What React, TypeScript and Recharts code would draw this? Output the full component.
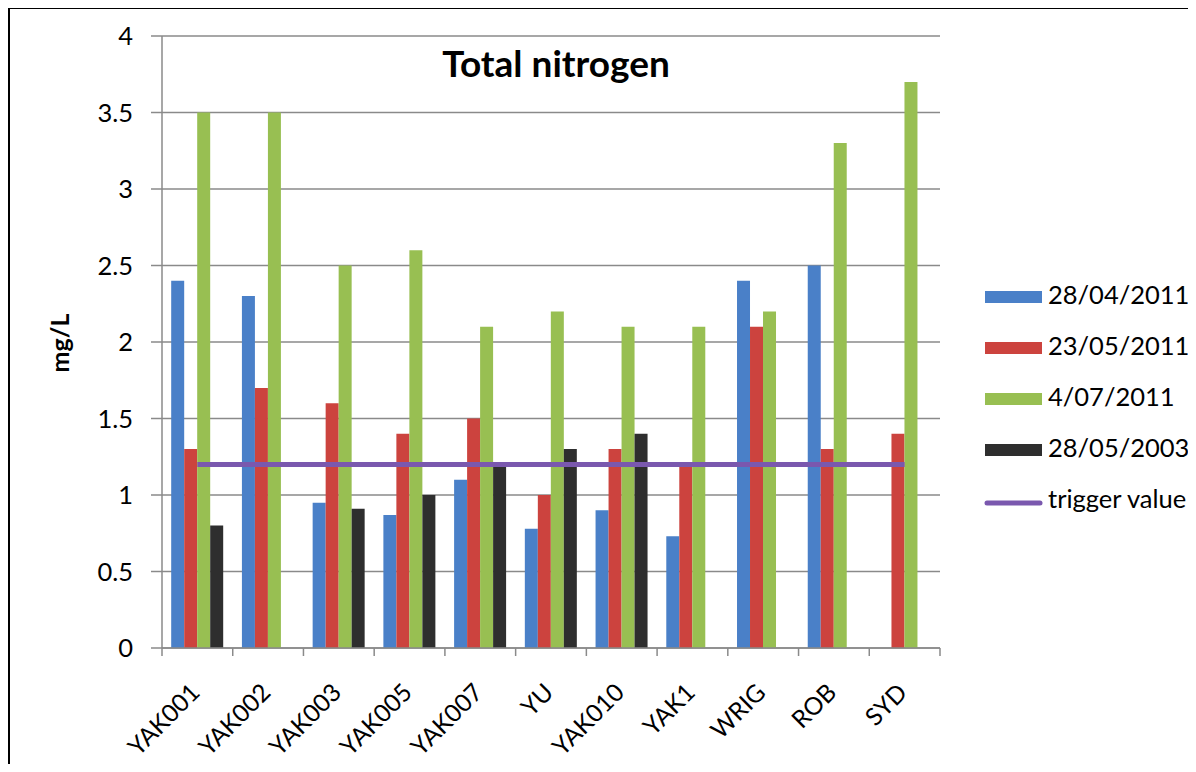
import React from 'react';
import { ComposedChart, Bar, Line, XAxis, YAxis, CartesianGrid } from 'recharts';

const sites = ['YAK001', 'YAK002', 'YAK003', 'YAK005', 'YAK007', 'YU', 'YAK010', 'YAK1', 'WRIG', 'ROB', 'SYD'];
const apr2011: (number | null)[] = [2.4, 2.3, 0.95, 0.87, 1.1, 0.78, 0.9, 0.73, 2.4, 2.5, null];
const may2011: (number | null)[] = [1.3, 1.7, 1.6, 1.4, 1.5, 1.0, 1.3, 1.2, 2.1, 1.3, 1.4];
const jul2011: (number | null)[] = [3.5, 3.5, 2.5, 2.6, 2.1, 2.2, 2.1, 2.1, 2.2, 3.3, 3.7];
const may2003: (number | null)[] = [0.8, null, 0.91, 1.0, 1.2, 1.3, 1.4, null, null, null, null];
const triggerValue = 1.2;
const yTicks = [0, 0.5, 1, 1.5, 2, 2.5, 3, 3.5, 4];
const edgeTicks = [0, 1, 2, 3, 4, 5, 6, 7, 8, 9, 10, 11];

const seriesNames = ['28/04/2011', '23/05/2011', '4/07/2011', '28/05/2003', 'trigger value'];
const seriesColors = ['#4A80C8', '#CC433E', '#98BF52', '#2E2E2E', '#7A58AE'];

const data = sites.map((s, i) => ({
  site: s,
  idx: i + 0.5,
  a: apr2011[i],
  b: may2011[i],
  c: jul2011[i],
  d: may2003[i],
  t: triggerValue,
}));

const FONT = 'Lato, "Open Sans", sans-serif';
const GRID = '#8A8A8A';
const EDGE = 'a_edge';
const CAT = 's_site';

const CatTick = (props: any) => {
  const { x, y, payload } = props;
  return (
    <g transform={`translate(${x + 4},${y + 45})`}>
      <text textAnchor="end" transform="rotate(-45)" fontSize={24.5} fontFamily={FONT} fill="#000">
        {payload.value}
      </text>
    </g>
  );
};

export default function App() {
  const legendBase = 304;
  const legendStep = 51;
  return (
    <div style={{ position: 'relative', width: 1196, height: 772, margin: -8, overflow: 'hidden', background: '#fff' }}>
      <div
        style={{
          position: 'absolute',
          left: 6,
          top: 5,
          width: 1400,
          height: 1200,
          borderLeft: '4px solid #000',
          borderTop: '4px solid #000',
          boxSizing: 'border-box',
        }}
      />
      <div style={{ position: 'absolute', left: 0, top: 0 }}>
        <ComposedChart
          width={1196}
          height={772}
          data={data}
          margin={{ top: 36, right: 256, bottom: 44, left: 102 }}
          barGap={0}
          barCategoryGap="13%"
        >
          <CartesianGrid xAxisId={CAT} vertical={false} stroke={GRID} strokeWidth={1.5} />
          <XAxis
            xAxisId={EDGE}
            dataKey="idx"
            type="number"
            domain={[0, sites.length]}
            ticks={edgeTicks}
            allowDataOverflow
            height={1}
            tickSize={8}
            tickFormatter={() => ''}
            axisLine={{ stroke: GRID, strokeWidth: 1.5 }}
            tickLine={{ stroke: GRID, strokeWidth: 1.5 }}
          />
          <XAxis
            xAxisId={CAT}
            dataKey="site"
            height={79}
            tickSize={0}
            tickMargin={0}
            axisLine={false}
            tickLine={false}
            interval={0}
            tick={<CatTick />}
          />
          <YAxis
            width={60}
            domain={[0, 4]}
            ticks={yTicks}
            tickSize={11}
            tickMargin={18}
            axisLine={{ stroke: GRID, strokeWidth: 1.5 }}
            tickLine={{ stroke: GRID, strokeWidth: 1.5 }}
            tick={{ fontSize: 25.5, fontFamily: FONT, fill: '#000' }}
          />
          <Bar xAxisId={CAT} dataKey="a" name={seriesNames[0]} fill={seriesColors[0]} isAnimationActive={false} />
          <Bar xAxisId={CAT} dataKey="b" name={seriesNames[1]} fill={seriesColors[1]} isAnimationActive={false} />
          <Bar xAxisId={CAT} dataKey="c" name={seriesNames[2]} fill={seriesColors[2]} isAnimationActive={false} />
          <Bar xAxisId={CAT} dataKey="d" name={seriesNames[3]} fill={seriesColors[3]} isAnimationActive={false} />
          <Line
            xAxisId={CAT}
            dataKey="t"
            name={seriesNames[4]}
            stroke={seriesColors[4]}
            strokeWidth={5}
            dot={false}
            activeDot={false}
            isAnimationActive={false}
          />
        </ComposedChart>
      </div>
      <svg
        width={1196}
        height={772}
        style={{ position: 'absolute', left: 0, top: 0, pointerEvents: 'none' }}
      >
        <text x={556} y={77} textAnchor="middle" fontSize={37} fontWeight={700} fontFamily={FONT} fill="#000">
          Total nitrogen
        </text>
        <text
          x={0}
          y={0}
          transform="translate(69,343) rotate(-90)"
          textAnchor="middle"
          fontSize={25}
          fontWeight={700}
          fontFamily={FONT}
          fill="#000"
        >
          mg/L
        </text>
        {seriesNames.map((name, i) => {
          const base = legendBase + i * legendStep;
          const isLine = i === seriesNames.length - 1;
          return (
            <g key={name}>
              {isLine ? (
                <line
                  x1={987}
                  x2={1040}
                  y1={base - 5}
                  y2={base - 5}
                  stroke={seriesColors[i]}
                  strokeWidth={5}
                  strokeLinecap="round"
                />
              ) : (
                <rect x={985} y={base - 13} width={57} height={12} fill={seriesColors[i]} />
              )}
              <text x={1048} y={base} fontSize={25.5} fontFamily={FONT} fill="#000">
                {name}
              </text>
            </g>
          );
        })}
      </svg>
    </div>
  );
}
